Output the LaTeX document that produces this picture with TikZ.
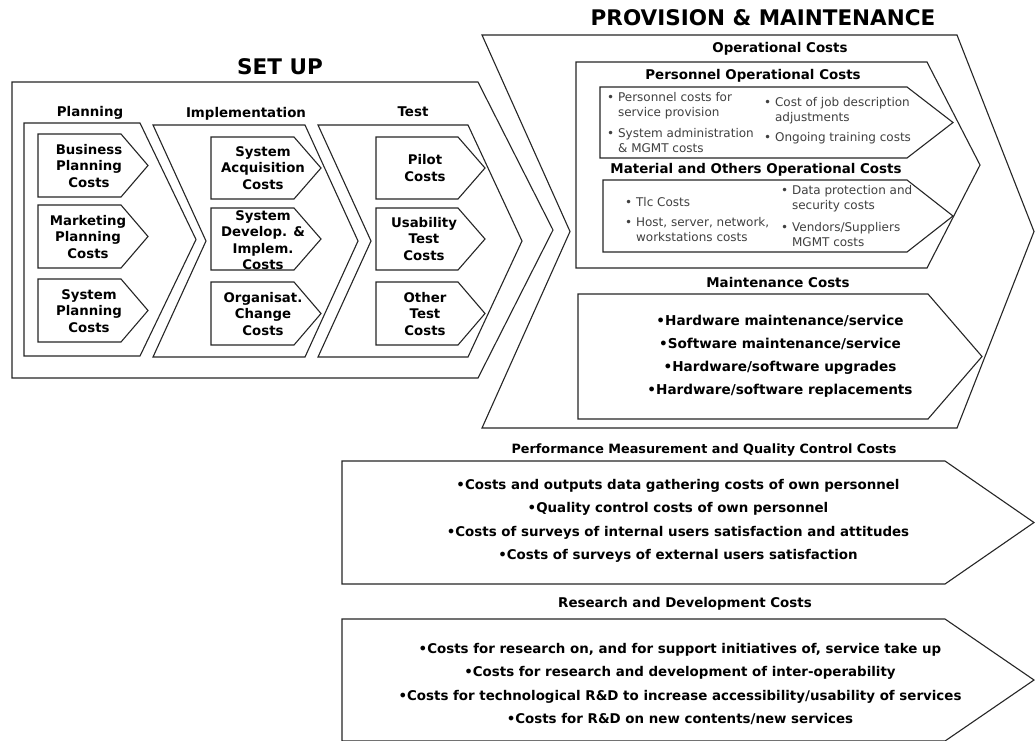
\documentclass[tikz,border=0pt]{standalone}
\usepackage{fontspec}
\setmainfont{DejaVu Sans}
\newcommand{\arrowbox}[5]{\draw[boxline] (#1,#4) -- (#2,#4) -- (#3,{(#4+#5)/2}) -- (#2,#5) -- (#1,#5) -- cycle;}
\newcommand{\chevshape}[6]{\draw[boxline] (#1,#5) -- (#3,#5) -- (#4,{(#5+#6)/2}) -- (#3,#6) -- (#1,#6) -- (#2,{(#5+#6)/2}) -- cycle;}
\newcommand{\bl}{\textbullet~}
\newcommand{\blind}{\hphantom{\textbullet~}}
\tikzset{
 boxline/.style={draw=black!85, line width=1.1pt, line join=miter},
 bigtitle/.style={font=\bfseries\fontsize{21.5}{24}\selectfont, inner sep=0},
 colhead/.style={font=\bfseries\fontsize{13.4}{16}\selectfont, inner sep=0},
 boxtxt/.style={font=\bfseries\fontsize{13.3}{16.5}\selectfont, align=center, inner sep=0},
 smalltxt/.style={font=\fontsize{12}{14.5}\selectfont, text=black!75, align=left, inner sep=0, anchor=north west},
 listtxt/.style={font=\bfseries\fontsize{13.6}{23}\selectfont, align=center, inner sep=0},
 lowtxt/.style={font=\bfseries\fontsize{13.4}{23.5}\selectfont, align=center, inner sep=0},
}
\begin{document}
\begin{tikzpicture}[x=1pt,y=-1pt]
\useasboundingbox[fill=white] (0,0) rectangle (1035,740);
% ---------- SET UP ----------
\node[bigtitle] (setup) at (280,67) {SET UP};
\arrowbox{12}{478}{553}{82}{378}
\arrowbox{24}{140}{196}{123}{356}
\chevshape{153}{206}{305}{358}{125}{357}
\chevshape{318}{371}{468}{522}{125}{357}
\node[colhead] (planning) at (90,113) {Planning};
\node[colhead] (impl) at (246,114) {Implementation};
\node[colhead] (test) at (413,112) {Test};
% planning boxes
\arrowbox{38}{121}{148}{134}{197}
\arrowbox{38}{121}{148}{205}{268}
\arrowbox{38}{121}{148}{279}{342}
\node[boxtxt] (bpc) at (89,166) {Business\\Planning\\Costs};
\node[boxtxt] (mpc) at (88,237) {Marketing\\Planning\\Costs};
\node[boxtxt] (spc) at (89,311) {System\\Planning\\Costs};
% implementation boxes
\arrowbox{211}{294}{321}{137}{199}
\arrowbox{211}{294}{321}{208}{270}
\arrowbox{211}{294}{321}{282}{345}
\node[boxtxt] (sac) at (263,168) {System\\Acquisition\\Costs};
\node[boxtxt] (sdi) at (263,240) {System\\Develop. \&\\Implem.\\Costs};
\node[boxtxt] (occ) at (263,314) {Organisat.\\Change\\Costs};
% test boxes
\arrowbox{376}{458}{485}{137}{199}
\arrowbox{376}{458}{485}{208}{270}
\arrowbox{376}{458}{485}{282}{345}
\node[boxtxt] (pil) at (425,168) {Pilot\\Costs};
\node[boxtxt] (utc) at (424,239) {Usability\\Test\\Costs};
\node[boxtxt] (otc) at (425,314) {Other\\Test\\Costs};
% ---------- PROVISION ----------
\node[bigtitle] (prov) at (763,18) {PROVISION \& MAINTENANCE};
\chevshape{482}{570}{957}{1034}{35}{428}
\node[colhead] (opc) at (780,49) {Operational Costs};
\arrowbox{576}{927}{980}{62}{268}
\node[colhead] (poc) at (753,76) {Personnel Operational Costs};
\arrowbox{600}{907}{953}{87}{158}
\node[smalltxt] (p1) at (607,92.5) {\bl Personnel costs for\\\blind service provision};
\node[smalltxt] (p2) at (607,128.5) {\bl System administration\\\blind \& MGMT costs};
\node[smalltxt] (p3) at (764,97.5) {\bl Cost of job description\\\blind adjustments};
\node[smalltxt] (p4) at (764,132.5) {\bl Ongoing training costs};
\node[colhead] (moc) at (756,170) {Material and Others Operational Costs};
\arrowbox{603}{907}{953}{180}{252}
\node[smalltxt] (m1) at (625,197.5) {\bl Tlc Costs};
\node[smalltxt] (m2) at (625,217.5) {\bl Host, server, network,\\\blind workstations costs};
\node[smalltxt] (m3) at (781,185.5) {\bl Data protection and\\\blind security costs};
\node[smalltxt] (m4) at (781,222.5) {\bl Vendors/Suppliers\\\blind MGMT costs};
\node[colhead] (mtc) at (778,282) {Maintenance Costs};
\arrowbox{578}{928}{982}{294}{419}
\node[listtxt] (mlist) at (780,356) {\textbullet Hardware maintenance/service\\\textbullet Software maintenance/service\\\textbullet Hardware/software upgrades\\\textbullet Hardware/software replacements};
% ---------- PERFORMANCE ----------
\node[colhead, font=\bfseries\fontsize{12.8}{15}\selectfont] (pmt) at (704,450) {Performance Measurement and Quality Control Costs};
\arrowbox{342}{945}{1034}{461}{584}
\node[lowtxt] (plist) at (678,521) {\textbullet Costs and outputs data gathering costs of own personnel\\\textbullet Quality control costs of own personnel\\\textbullet Costs of surveys of internal users satisfaction and attitudes\\\textbullet Costs of surveys of external users satisfaction};
% ---------- R&D ----------
\node[colhead] (rdt) at (685,604) {Research and Development Costs};
\arrowbox{342}{945}{1034}{619}{741}
\node[lowtxt] (rlist) at (680,684) {\textbullet Costs for research on, and for support initiatives of, service take up\\\textbullet Costs for research and development of inter-operability\\\textbullet Costs for technological R\&D to increase accessibility/usability of services\\\textbullet Costs for R\&D on new contents/new services};
\end{tikzpicture}
\end{document}
